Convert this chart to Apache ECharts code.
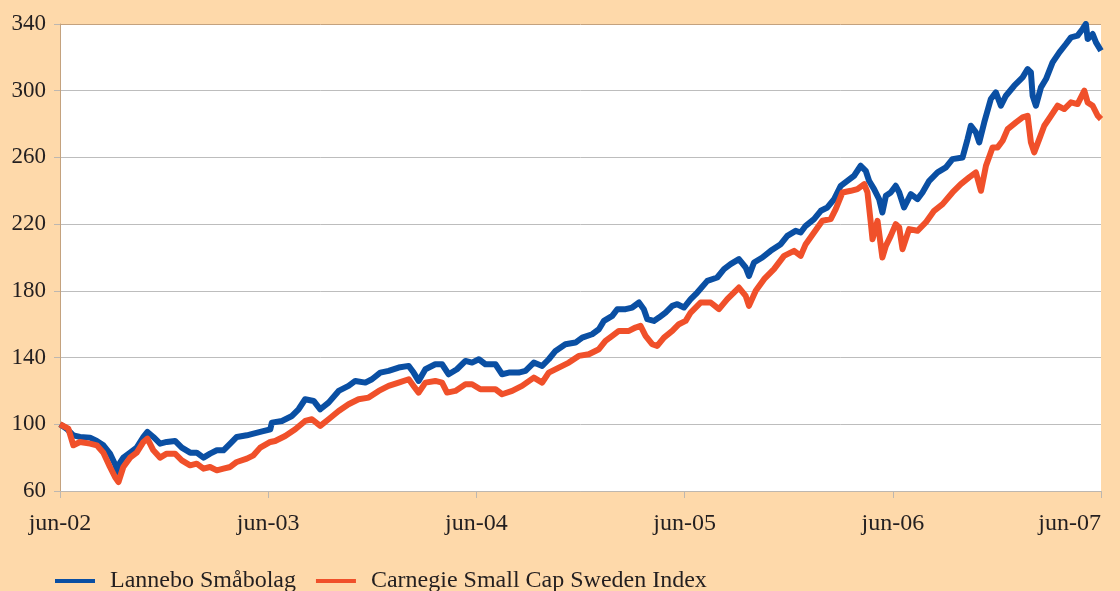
<!DOCTYPE html>
<html>
<head>
<meta charset="utf-8">
<script src="https://cdn.jsdelivr.net/npm/echarts@6/dist/echarts.min.js"></script>
<style>
html,body{margin:0;padding:0;background:#FED9AA;}
#c{width:1120px;height:591px;}
</style>
</head>
<body>
<div id="c"></div>
<script>
// x positions are months since June 2002
const tickLabels = ['jun-02','jun-03','jun-04','jun-05','jun-06','jun-07'];
const seriesNames = ['Lannebo Småbolag','Carnegie Small Cap Sweden Index'];

const lanneboMonths = [0,0.38,0.77,1.15,1.73,2.12,2.50,2.88,3.17,3.33,3.46,3.65,4.04,4.42,4.81,5.04,5.38,5.77,6.15,6.63,7.02,7.5,7.88,8.27,8.65,9.04,9.42,9.81,10.19,10.77,11.15,11.54,12.12,
 12.21,12.79,13.37,13.75,14.13,14.62,15.0,15.48,16.06,16.63,17.02,17.60,17.98,18.46,18.94,19.52,20.10,20.38,20.67,21.06,21.63,22.02,22.40,22.88,23.37,23.75,24.14,
 24.52,25.10,25.48,25.87,26.44,26.83,27.31,27.79,28.17,28.56,29.13,29.71,30.10,30.67,31.06,31.35,31.83,32.12,32.60,32.98,33.37,33.65,33.85,34.23,34.52,34.90,35.29,35.58,35.96,36.35,
 36.73,37.31,37.88,38.27,38.65,39.13,39.52,39.71,40.0,40.48,40.96,41.54,41.92,42.40,42.69,42.98,43.46,43.85,44.23,44.62,45.0,45.38,45.77,46.15,46.44,46.63,46.92,47.21,47.40,47.60,47.88,48.17,
 48.37,48.65,49.04,49.42,49.71,50.10,50.58,51.06,51.44,52.02,52.31,52.50,52.79,52.98,53.27,53.65,53.94,54.23,54.52,55.0,55.48,55.77,55.96,56.06,56.25,56.54,56.83,57.21,57.60,57.98,58.27,58.65,58.94,59.13,59.23,59.52,59.71,60.0];
const lanneboValues = [100,97.4,93.4,92.4,92,90,87.4,82.4,76,71.5,77,80,83,86,92.4,95.4,92.4,88.4,89.4,90,86,83,83,80,82.4,84.4,84.4,88.4,92.4,93.4,94.4,95.4,97,
 101,102,105,109,115,114,109,113,120,123,126,125,127,131,132,134,135,131,126,133,136,136,130,133,138,137,139,
 136,136,130,131,131,132,137,135,139,144,148,149,152,154,157,162,165,169,169,170,173,169,163,162,164,167,171,172,170,175,
 179,186,188,193,196,199,194,189,197,200,204,208,213,216,215,219,223,228,230,235,243,246,249,255,252,246,241,235,227,237,239,243,
 239,230,238,235,239,246,251,254,259,260,271,279,275,269,281,295,299,291,297,303,308,313,311,297,291,302,307,317,323,328,332,333,337,340,331,334,329,324];

const carnegieMonths = [0,0.48,0.77,1.15,1.73,2.12,2.50,2.88,3.17,3.37,3.65,4.04,4.42,4.81,5.04,5.38,5.77,6.15,6.63,7.02,7.5,7.88,8.27,8.65,9.04,9.42,9.81,10.19,10.77,11.15,11.54,12.12,
 12.40,12.98,13.56,14.13,14.52,15.0,15.48,16.06,16.63,17.21,17.79,18.37,18.94,19.52,20.10,20.38,20.67,21.06,21.63,22.02,22.31,22.79,23.37,23.75,24.23,
 24.52,25.10,25.48,26.06,26.63,27.31,27.79,28.17,28.75,29.33,29.90,30.48,31.06,31.44,31.83,32.21,32.79,33.17,33.46,33.75,34.13,34.42,34.81,35.29,35.67,36.06,36.35,
 36.92,37.50,37.98,38.46,39.13,39.52,39.71,40.10,40.58,41.15,41.73,42.31,42.69,42.98,43.46,43.94,44.42,44.71,45.10,45.58,45.96,46.35,46.54,46.73,46.83,47.12,47.31,47.40,47.60,47.88,48.17,
 48.37,48.56,48.94,49.42,49.90,50.38,50.87,51.44,51.92,52.40,52.79,53.08,53.37,53.75,54.04,54.33,54.62,55.10,55.48,55.77,55.96,56.15,56.44,56.73,57.12,57.50,57.88,58.27,58.65,59.04,59.23,59.52,59.81,60.0];
const carnegieValues = [100,97.4,87.4,89.4,88.4,87.4,83,74.4,68.4,65.4,74.4,80,83,89.4,91.4,84.4,80,82.4,82.4,78.4,75.4,76.4,73.4,74.4,72.4,73.4,74.4,77.4,79.4,81.4,86,89.4,
 90,93,97,102,103,99,103,108,112,115,116,120,123,125,127,123,119,125,126,125,119,120,124,124,121,
 121,121,118,120,123,128,125,131,134,137,141,142,145,150,153,156,156,158,159,153,148,147,152,156,160,162,167,
 173,173,169,175,182,177,171,180,187,193,201,204,201,208,215,222,223,229,239,240,241,244,239,221,211,222,207,200,207,213,220,
 218,205,217,216,221,228,232,239,244,248,251,240,255,266,266,270,277,281,284,285,269,263,271,279,285,291,289,293,292,300,293,291,285,283];

const zip = (xs, ys) => xs.map((x, i) => [x, ys[i]]);
const font = '"Liberation Serif","Times New Roman",serif';

const chart = echarts.init(document.getElementById('c'));
chart.setOption({
  backgroundColor: '#FED9AA',
  animation: false,
  grid: { left: 60, right: 19, top: 24, bottom: 100, show: true, backgroundColor: '#FFFFFF', borderWidth: 0,
          containLabel: false, outerBoundsMode: 'none' },
  xAxis: {
    type: 'value', min: 0, max: 60, interval: 12,
    axisLine: { show: true, lineStyle: { color: '#BDB7B0', width: 1 } },
    axisTick: { show: true, length: 7, lineStyle: { color: '#BDB7B0' } },
    splitLine: { show: false },
    axisLabel: { margin: 21, fontFamily: font, fontSize: 24, color: '#231F20', alignMaxLabel: 'right',
      formatter: v => tickLabels[Math.round(v / 12)] }
  },
  yAxis: {
    type: 'value', min: 60, max: 340, interval: 40,
    axisLine: { show: true, lineStyle: { color: '#C4A27E', width: 1 } },
    axisTick: { show: true, length: 6, lineStyle: { color: '#BDB7B0' } },
    splitLine: { show: true, lineStyle: { width: 1, color: ['#BDBDBD','#BDBDBD','#BDBDBD','#BDBDBD','#BDBDBD','#BDBDBD','#BDBDBD','#C4A27E'] } },
    axisLabel: { margin: 14, fontFamily: font, fontSize: 23, color: '#231F20' }
  },
  legend: {
    left: 55, top: 569, padding: 0, itemWidth: 40, itemHeight: 4, itemGap: 20, icon: 'rect',
    textStyle: { fontFamily: font, fontSize: 24, color: '#231F20', padding: [0, 0, 0, 10] },
    data: seriesNames
  },
  series: [
    { name: seriesNames[0], type: 'line', data: zip(lanneboMonths, lanneboValues), showSymbol: false,
      lineStyle: { color: '#0A4FA3', width: 6, join: 'round' }, itemStyle: { color: '#0A4FA3' } },
    { name: seriesNames[1], type: 'line', data: zip(carnegieMonths, carnegieValues), showSymbol: false,
      lineStyle: { color: '#F0502A', width: 6, join: 'round' }, itemStyle: { color: '#F0502A' } }
  ]
});
</script>
</body>
</html>
